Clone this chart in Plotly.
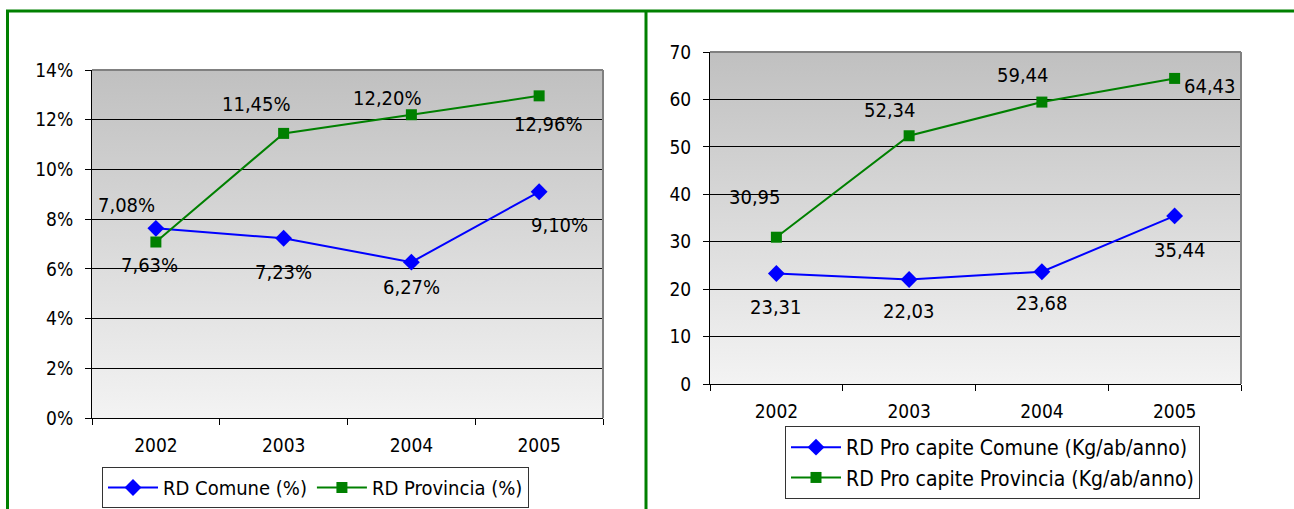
"""Raccolta differenziata: Comune vs Provincia, 2002-2005."""

import base64

import plotly.graph_objects as go

YEARS = ["2002", "2003", "2004", "2005"]

# percentuale di raccolta differenziata
RD_COMUNE_PCT = [7.63, 7.23, 6.27, 9.10]
RD_PROVINCIA_PCT = [7.08, 11.45, 12.20, 12.96]

# raccolta differenziata pro capite (Kg/ab/anno)
RD_COMUNE_KG = [23.31, 22.03, 23.68, 35.44]
RD_PROVINCIA_KG = [30.95, 52.34, 59.44, 64.43]

# label offsets in pixels (dx, dy), as placed in the original sheet
OFF_COMUNE_PCT = [(-6, 37), (0, 34), (0, 25), (20, 33)]
OFF_PROVINCIA_PCT = [(-29, -37), (-27, -29), (-24, -17), (9, 28)]
OFF_COMUNE_KG = [(0, 34), (0, 31), (0, 31), (5, 34)]
OFF_PROVINCIA_KG = [(-21, -40), (-19, -26), (-19, -27), (35, 8)]

W, H = 1294, 509
FONT = "DejaVu Sans Condensed, DejaVu Sans, sans-serif"
BLUE = "#0000ff"
GREEN = "#008000"


def px_x(v):
    return v / W


def px_y(v):
    return 1 - v / H


LEFT_X = (px_x(92), px_x(603))
LEFT_Y = (px_y(418), px_y(70))
RIGHT_X = (px_x(710), px_x(1241))
RIGHT_Y = (px_y(384), px_y(52))

svg = (
    "<svg xmlns='http://www.w3.org/2000/svg' width='10' height='100' preserveAspectRatio='none'>"
    "<defs><linearGradient id='g' x1='0' y1='0' x2='0' y2='1'>"
    "<stop offset='0' stop-color='#c0c0c0'/><stop offset='1' stop-color='#f3f3f3'/>"
    "</linearGradient></defs><rect width='10' height='100' fill='url(#g)'/></svg>"
)
GRADIENT = "data:image/svg+xml;base64," + base64.b64encode(svg.encode()).decode()


def fmt(v, suffix=""):
    return f"{v:.2f}".replace(".", ",") + suffix


fig = go.Figure()

fig.add_trace(go.Scatter(
    x=YEARS, y=RD_COMUNE_PCT, name="RD Comune (%)", mode="lines+markers",
    line=dict(color=BLUE, width=2), marker=dict(symbol="diamond", size=13, color=BLUE),
    xaxis="x", yaxis="y", legend="legend",
))
fig.add_trace(go.Scatter(
    x=YEARS, y=RD_PROVINCIA_PCT, name="RD Provincia (%)", mode="lines+markers",
    line=dict(color=GREEN, width=2), marker=dict(symbol="square", size=11, color=GREEN),
    xaxis="x", yaxis="y", legend="legend",
))
fig.add_trace(go.Scatter(
    x=YEARS, y=RD_COMUNE_KG, name="RD Pro capite Comune (Kg/ab/anno)", mode="lines+markers",
    line=dict(color=BLUE, width=2), marker=dict(symbol="diamond", size=13, color=BLUE),
    xaxis="x2", yaxis="y2", legend="legend2",
))
fig.add_trace(go.Scatter(
    x=YEARS, y=RD_PROVINCIA_KG, name="RD Pro capite Provincia (Kg/ab/anno)", mode="lines+markers",
    line=dict(color=GREEN, width=2), marker=dict(symbol="square", size=11, color=GREEN),
    xaxis="x2", yaxis="y2", legend="legend2",
))

# data labels: x given as category index so "2002" is not read as a number
annotations = []
for vals, offs, xr, yr, suf in [
    (RD_COMUNE_PCT, OFF_COMUNE_PCT, "x", "y", "%"),
    (RD_PROVINCIA_PCT, OFF_PROVINCIA_PCT, "x", "y", "%"),
    (RD_COMUNE_KG, OFF_COMUNE_KG, "x2", "y2", ""),
    (RD_PROVINCIA_KG, OFF_PROVINCIA_KG, "x2", "y2", ""),
]:
    for i, (v, (dx, dy)) in enumerate(zip(vals, offs)):
        annotations.append(dict(
            x=i, y=v, xref=xr, yref=yr, text=fmt(v, suf), showarrow=False,
            xshift=dx, yshift=-dy, font=dict(size=20, color="black", family=FONT),
        ))

xaxis_common = dict(
    type="category", range=[-0.5, 3.5], tickson="boundaries", ticks="outside", ticklen=6,
    tickcolor="black", showline=True, linecolor="black", linewidth=1, showgrid=False,
    zeroline=False, tickfont=dict(size=19, color="black"), ticklabelstandoff=10,
    automargin=False, fixedrange=True,
)
yaxis_common = dict(
    ticks="outside", ticklen=6, tickcolor="black", showline=True, linecolor="black", linewidth=1,
    showgrid=True, gridcolor="black", gridwidth=1, zeroline=False,
    tickfont=dict(size=19, color="black"), ticklabelstandoff=8, automargin=False,
    fixedrange=True,
)

shapes = []
# plot-area top/right grey frame
for xd, yd in [(LEFT_X, LEFT_Y), (RIGHT_X, RIGHT_Y)]:
    shapes.append(dict(type="line", xref="paper", yref="paper", x0=xd[0], x1=xd[1],
                       y0=yd[1], y1=yd[1], line=dict(color="#808080", width=2), layer="above"))
    shapes.append(dict(type="line", xref="paper", yref="paper", x0=xd[1], x1=xd[1],
                       y0=yd[0], y1=yd[1], line=dict(color="#808080", width=2), layer="above"))
# green page frame
shapes += [
    dict(type="line", xref="paper", yref="paper", x0=px_x(6), x1=1, y0=px_y(11), y1=px_y(11),
         line=dict(color=GREEN, width=3)),
    dict(type="line", xref="paper", yref="paper", x0=px_x(7.5), x1=px_x(7.5), y0=0, y1=px_y(11),
         line=dict(color=GREEN, width=3)),
    dict(type="line", xref="paper", yref="paper", x0=px_x(646), x1=px_x(646), y0=0, y1=px_y(11),
         line=dict(color=GREEN, width=3)),
]

images = [
    dict(source=GRADIENT, xref="paper", yref="paper", x=xd[0], y=yd[1],
         sizex=xd[1] - xd[0], sizey=yd[1] - yd[0], sizing="stretch",
         xanchor="left", yanchor="top", layer="below")
    for xd, yd in [(LEFT_X, LEFT_Y), (RIGHT_X, RIGHT_Y)]
]

legend_common = dict(
    bgcolor="white", bordercolor="#333333", borderwidth=1,
    xanchor="left", yanchor="top", itemwidth=50, tracegroupgap=0,
)

fig.update_layout(
    width=W, height=H, autosize=False,
    margin=dict(l=0, r=0, t=0, b=0, pad=0, autoexpand=False),
    paper_bgcolor="white", plot_bgcolor="rgba(0,0,0,0)",
    font=dict(family=FONT, color="black"),
    xaxis=dict(domain=list(LEFT_X), anchor="y", **xaxis_common),
    yaxis=dict(domain=list(LEFT_Y), anchor="x", range=[0, 14], dtick=2, ticksuffix="%",
               **yaxis_common),
    xaxis2=dict(domain=list(RIGHT_X), anchor="y2", **xaxis_common),
    yaxis2=dict(domain=list(RIGHT_Y), anchor="x2", range=[0, 70], dtick=10, **yaxis_common),
    legend=dict(orientation="h", x=px_x(102), y=px_y(467),
                font=dict(size=20, color="black", family=FONT), **legend_common),
    legend2=dict(orientation="v", x=px_x(785), y=px_y(426),
                 font=dict(size=21, color="black", family=FONT), **legend_common),
    annotations=annotations,
    shapes=shapes,
    images=images,
    showlegend=True,
)

fig.write_html(
    "out.html",
    config={"displayModeBar": False},
    post_script="document.body.style.margin='0';document.body.style.overflow='hidden';",
)
